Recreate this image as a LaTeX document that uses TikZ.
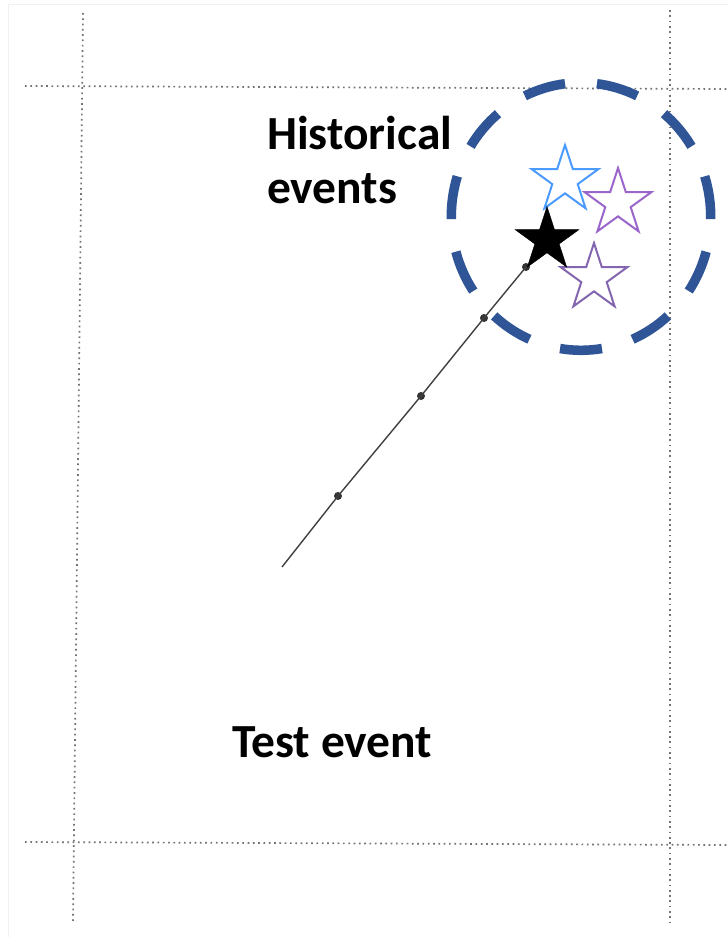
\documentclass[tikz,border=0pt]{standalone}
\usepackage{fontspec}
\setmainfont{Carlito}
\usetikzlibrary{shapes.geometric,calc}
\definecolor{ringblue}{HTML}{2F5597}
\definecolor{starblue}{HTML}{4C9BFF}
\definecolor{starpurple}{HTML}{9A66CC}
\definecolor{starpurpleb}{HTML}{8466B0}
\tikzset{
  gridline/.style={draw=black!55, line width=1.7pt, dash pattern=on 1.7pt off 3.6pt},
  faint/.style={draw=gray!12, line width=0.8pt},
  ringdash/.style={draw=ringblue, line width=9.5pt},
  hollowstar/.style={star, star points=5, star point ratio=2.618, minimum size=70pt, inner sep=0pt, fill=white, line width=2pt},
  solidstar/.style={star, star points=5, star point ratio=2.618, minimum size=67pt, inner sep=0pt, fill=black, draw=black},
  lbl/.style={font=\bfseries\fontsize{47.5}{57}\selectfont, inner sep=0pt, anchor=base west},
  path/.style={draw=black!75, line width=1.4pt},
  pdot/.style={circle, fill=black!80, minimum size=8pt, inner sep=0pt}
}
\begin{document}
\begin{tikzpicture}[x=1pt,y=-1pt]
\useasboundingbox (0,0) rectangle (728,937);
\fill[white] (0,0) rectangle (728,937);
% faint frame
\draw[faint] (8,4) -- (728,4);
\draw[faint] (8,4) -- (8,937);
% dotted grid
\coordinate (gl1) at (83,13); \coordinate (gl2) at (73,922);
\coordinate (gr1) at (670,10); \coordinate (gr2) at (670,922);
\coordinate (gt1) at (25,86); \coordinate (gt2) at (728,89);
\coordinate (gb1) at (25,842); \coordinate (gb2) at (728,845);
\draw[gridline] (gl1) -- (gl2);
\draw[gridline] (gr1) -- (gr2);
\draw[gridline] (gt1) -- (gt2);
\draw[gridline] (gb1) -- (gb2);
% dashed ring (11 dashes, one centred at the bottom)
\coordinate (rc) at (581,216.5);
\foreach \k in {0,...,10}{
  \pgfmathsetmacro{\sa}{90+\k*32.7273-9.3}
  \pgfmathsetmacro{\ea}{90+\k*32.7273+9.3}
  \draw[ringdash] ($(rc)+({129.7*cos(\sa)},{133.8*sin(\sa)})$)
    arc[start angle=\sa, end angle=\ea, x radius=129.7, y radius=133.8];
}
% stars
\node[hollowstar, draw=starblue] (s1) at (565,180) {};
\node[hollowstar, draw=starpurple] (s2) at (618,203) {};
\node[hollowstar, draw=starpurpleb] (s3) at (594,278) {};
% trajectory
\coordinate (p0) at (282,567);
\node[pdot] (d1) at (338,496) {};
\node[pdot] (d2) at (421,396) {};
\node[pdot] (d3) at (484,318) {};
\node[pdot] (d4) at (526,267) {};
\draw[path] (p0) -- (d1.center) -- (d2.center) -- (d3.center) -- (d4.center);
\node[solidstar] (s0) at (547,240) {};
% labels
\node[lbl] (hist1) at (267,149) {Historical};
\node[lbl] (hist2) at (267,203) {events};
\node[lbl] (test) at (232,757) {Test event};
\end{tikzpicture}
\end{document}
